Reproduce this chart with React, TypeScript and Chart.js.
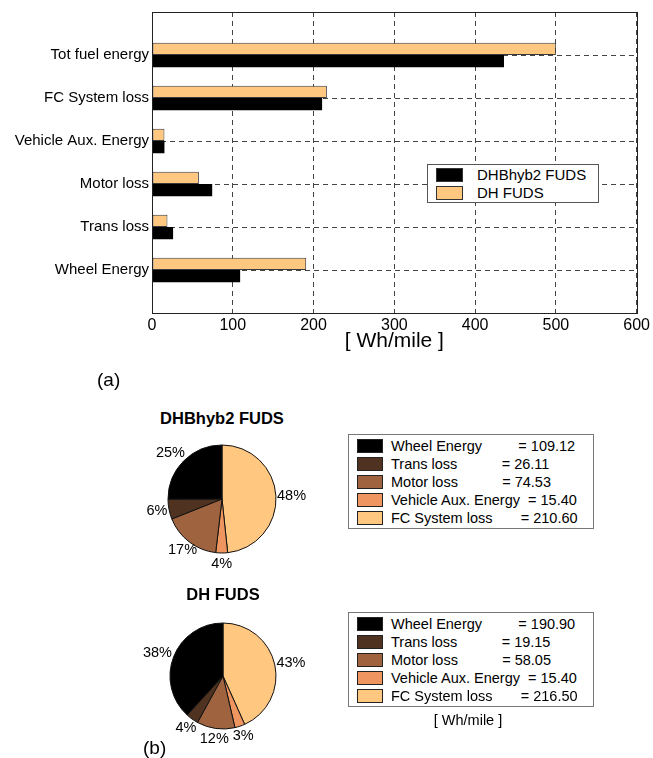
import React, { useEffect, useRef } from 'react';
import { Chart, registerables } from 'chart.js';

Chart.register(...registerables);

const FONT = '"Liberation Sans", Arial, Helvetica, sans-serif';

// ---- data ----
const barCategories = ['Tot fuel energy', 'FC System loss', 'Vehicle Aux. Energy', 'Motor loss', 'Trans loss', 'Wheel Energy'];
const barHyb2 = [435.76, 210.6, 15.4, 74.53, 26.11, 109.12];
const barDH = [500.0, 216.5, 15.4, 58.05, 19.15, 190.9];
const xTicks = [0, 100, 200, 300, 400, 500, 600];
const seriesNames = ['DHBhyb2 FUDS', 'DH FUDS'];
const seriesColors = ['#000000', '#FFC77F'];

const pieLabels = ['Wheel Energy', 'Trans loss', 'Motor loss', 'Vehicle Aux. Energy', 'FC System loss'];
const pieHyb2 = [109.12, 26.11, 74.53, 15.4, 210.6];
const pieDH = [190.9, 19.15, 58.05, 15.4, 216.5];
const pieColors = ['#000000', '#503220', '#9F643F', '#EF955F', '#FFC77F'];
const unitLabel = '[ Wh/mile ]';

const framePlugin = {
  id: 'frame',
  afterDatasetsDraw(chart: any) {
    const { ctx, chartArea: a } = chart;
    ctx.save();
    ctx.strokeStyle = '#222';
    ctx.lineWidth = 1;
    ctx.setLineDash([]);
    ctx.strokeRect(Math.round(a.left) + 0.5, Math.round(a.top) + 0.5, Math.round(a.right - a.left), Math.round(a.bottom - a.top));
    ctx.restore();
  },
};

function BarChart() {
  const ref = useRef<HTMLCanvasElement>(null);
  useEffect(() => {
    const chart = new Chart(ref.current as HTMLCanvasElement, {
      type: 'bar',
      data: {
        labels: ['', ...barCategories, ''],
        datasets: [
          {
            label: seriesNames[1],
            data: [null, ...barDH, null],
            backgroundColor: seriesColors[1],
            borderColor: '#3a3a3a',
            borderWidth: 1,
            borderSkipped: false,
          },
          {
            label: seriesNames[0],
            data: [null, ...barHyb2, null],
            backgroundColor: seriesColors[0],
            borderColor: '#000',
            borderWidth: 0,
          },
        ],
      } as any,
      options: {
        indexAxis: 'y',
        animation: false,
        responsive: false,
        maintainAspectRatio: false,
        categoryPercentage: 0.57,
        barPercentage: 1,
        layout: { padding: { top: 12, right: 14, left: 0, bottom: 0 } },
        plugins: { legend: { display: false }, tooltip: { enabled: false } },
        scales: {
          x: {
            type: 'linear',
            min: 0,
            max: 600,
            afterFit(s: any) { s.height = 57; },
            afterBuildTicks(s: any) { s.ticks = xTicks.map((v) => ({ value: v })); },
            ticks: { font: { family: FONT, size: 16 }, color: '#000', padding: 3, maxRotation: 0 },
            grid: { color: '#444', lineWidth: 1, drawTicks: false },
            border: { display: false, dash: [5, 4] },
            title: { display: true, text: unitLabel, font: { family: FONT, size: 21 }, color: '#000', padding: { top: 0, bottom: 16 } },
          },
          y: {
            type: 'category',
            offset: false,
            afterFit(s: any) { s.width = 152; },
            ticks: { font: { family: FONT, size: 15 }, color: '#000', padding: 3, autoSkip: false },
            grid: { color: '#444', lineWidth: 1, drawTicks: false, offset: false },
            border: { display: false, dash: [5, 4] },
          },
        },
      } as any,
      plugins: [framePlugin],
    });
    return () => chart.destroy();
  }, []);
  return <canvas ref={ref} width={653} height={370} style={{ position: 'absolute', left: 0, top: 0, width: 653, height: 370 }} />;
}

// Percent labels: centred at 1.2 r on the slice bisector; labels on the sides are
// pushed outward horizontally until their box clears the pie.
const pctPlugin = {
  id: 'pct',
  afterDatasetsDraw(chart: any) {
    const { ctx } = chart;
    const meta = chart.getDatasetMeta(0);
    const data: number[] = chart.data.datasets[0].data;
    const total = data.reduce((a, b) => a + b, 0);
    ctx.save();
    ctx.font = `14.5px ${FONT}`;
    ctx.fillStyle = '#000';
    ctx.textAlign = 'center';
    ctx.textBaseline = 'middle';
    meta.data.forEach((arc: any, i: number) => {
      const { x, y, startAngle, endAngle, outerRadius: R } = arc.getProps(['x', 'y', 'startAngle', 'endAngle', 'outerRadius'], true);
      const mid = (startAngle + endAngle) / 2;
      const c = Math.cos(mid);
      const s = Math.sin(mid);
      const txt = Math.round((data[i] / total) * 100) + '%';
      let tx = x + c * R * 1.2;
      const ty = y + s * R * 1.2;
      if (Math.abs(c) > 0.7) {
        const hw = ctx.measureText(txt).width / 2;
        const hh = 5.5;
        const nearY = Math.max(ty - hh, Math.min(y, ty + hh));
        const dy = Math.abs(nearY - y);
        if (dy < R) {
          const need = Math.sqrt(R * R - dy * dy) + 1;
          const inner = c > 0 ? tx - hw - x : x - (tx + hw);
          if (inner < need) tx += (c > 0 ? 1 : -1) * (need - inner);
        }
      }
      ctx.fillText(txt, tx, ty);
    });
    ctx.restore();
  },
};

function PieChart({ values, left, top, pad }: { values: number[]; left: number; top: number; pad: number }) {
  const ref = useRef<HTMLCanvasElement>(null);
  useEffect(() => {
    // reversed so that slices run counter-clockwise from the top, as in the original
    const chart = new Chart(ref.current as HTMLCanvasElement, {
      type: 'pie',
      data: {
        labels: [...pieLabels].reverse(),
        datasets: [
          {
            data: [...values].reverse(),
            backgroundColor: [...pieColors].reverse(),
            borderColor: '#111',
            borderWidth: 1,
          },
        ],
      },
      options: {
        animation: false,
        responsive: false,
        maintainAspectRatio: false,
        layout: { padding: pad },
        plugins: { legend: { display: false }, tooltip: { enabled: false } },
      } as any,
      plugins: [pctPlugin],
    });
    return () => chart.destroy();
  }, []);
  return <canvas ref={ref} width={200} height={200} style={{ position: 'absolute', left, top, width: 200, height: 200 }} />;
}

function CenterText({ cx, cy, size, bold, children }: any) {
  return (
    <div style={{ position: 'absolute', left: cx - 150, top: cy - 12, width: 300, height: 24, lineHeight: '24px', textAlign: 'center', fontFamily: FONT, fontSize: size, fontWeight: bold ? 'bold' : 'normal', color: '#000', whiteSpace: 'pre' }}>
      {children}
    </div>
  );
}

function LeftText({ x, cy, size, children }: any) {
  return (
    <div style={{ position: 'absolute', left: x, top: cy - 12, height: 24, lineHeight: '24px', fontFamily: FONT, fontSize: size, color: '#000', whiteSpace: 'pre' }}>
      {children}
    </div>
  );
}

function BarLegend() {
  const order = [0, 1];
  return (
    <div style={{ position: 'absolute', left: 427, top: 164, width: 172, height: 39, boxSizing: 'border-box', border: '1px solid #555', background: '#fff' }}>
      {order.map((k, i) => (
        <div key={k} style={{ position: 'absolute', left: 0, top: 1 + i * 18, height: 18, width: 170 }}>
          <div style={{ position: 'absolute', left: 8, top: 2, width: 27, height: 14, boxSizing: 'border-box', border: '1px solid #333', background: seriesColors[k] }} />
          <div style={{ position: 'absolute', left: 49, top: 0, lineHeight: '18px', fontFamily: FONT, fontSize: 15, color: '#000', whiteSpace: 'pre' }}>{seriesNames[k]}</div>
        </div>
      ))}
    </div>
  );
}

function PieLegend({ values, left, top }: { values: number[]; left: number; top: number }) {
  return (
    <div style={{ position: 'absolute', left, top, width: 246, height: 95, boxSizing: 'border-box', border: '1px solid #777', background: '#fff' }}>
      {pieLabels.map((lab, i) => (
        <div key={lab} style={{ position: 'absolute', left: 0, top: 2 + i * 18, height: 18, width: 244 }}>
          <div style={{ position: 'absolute', left: 8, top: 2, width: 26, height: 14, boxSizing: 'border-box', border: '1px solid #222', background: pieColors[i] }} />
          <div style={{ position: 'absolute', left: 42, top: 0, lineHeight: '18px', fontFamily: FONT, fontSize: 14.5, color: '#000', whiteSpace: 'pre' }}>
            {`${lab.padEnd(20)} = ${values[i].toFixed(2)}`}
          </div>
        </div>
      ))}
    </div>
  );
}

export default function App() {
  return (
    <div style={{ position: 'absolute', left: 0, top: 0, width: 653, height: 758, background: '#fff', overflow: 'hidden' }}>
      <BarChart />
      <BarLegend />
      <LeftText x={97} cy={380} size={19}>(a)</LeftText>

      <CenterText cx={222} cy={418} size={16.5} bold>{seriesNames[0]}</CenterText>
      <PieChart values={pieHyb2} left={122} top={399} pad={45.5} />
      <PieLegend values={pieHyb2} left={348} top={434} />

      <CenterText cx={223} cy={594} size={16.5} bold>{seriesNames[1]}</CenterText>
      <PieChart values={pieDH} left={123} top={576} pad={46.5} />
      <PieLegend values={pieDH} left={348} top={612} />
      <CenterText cx={468} cy={720} size={14.5}>{unitLabel}</CenterText>

      <LeftText x={143} cy={748} size={19}>(b)</LeftText>
    </div>
  );
}
